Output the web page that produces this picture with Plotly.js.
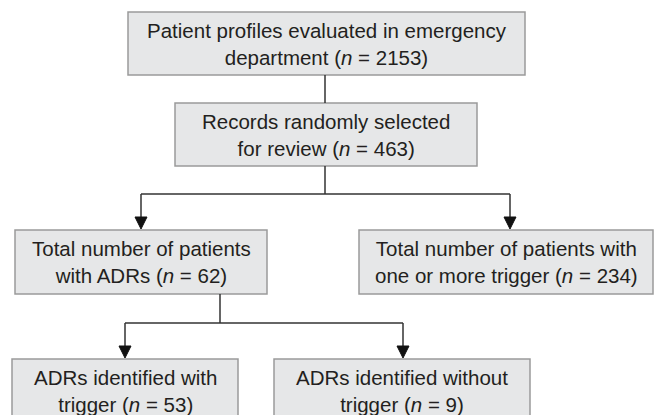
<!DOCTYPE html>
<html>
<head>
<meta charset="utf-8">
<script src="https://cdn.plot.ly/plotly-3.0.1.min.js"></script>
<style>html,body{margin:0;padding:0;background:#fff;}#chart{width:654px;height:415px;}</style>
</head>
<body>
<div id="chart"></div>
<script>
// ---- data ----
const nodeLabels = [
  "Patient profiles evaluated in emergency<br>department",
  "Records randomly selected<br>for review",
  "Total number of patients<br>with ADRs",
  "Total number of patients with<br>one or more trigger",
  "ADRs identified with<br>trigger",
  "ADRs identified without<br>trigger"
];
const nodeCounts = [2153, 463, 62, 234, 53, 9];
// parent index for each node (-1 = root)
const nodeParents = [-1, 0, 1, 1, 2, 2];

// ---- layout (pixel frame 654 x 415, y downward) ----
const boxes = [
  {x0: 128, x1: 525, y0: 12,  y1: 75},
  {x0: 175, x1: 477, y0: 103, y1: 166},
  {x0: 15,  x1: 267, y0: 230, y1: 294},
  {x0: 359, x1: 653, y0: 230, y1: 294},
  {x0: 12,  x1: 238, y0: 359, y1: 430},
  {x0: 274, x1: 530, y0: 359, y1: 430}
];
const stemX = [325, 325, 220]; // x where a parent's connector leaves
const arrowX = [null, 325, 141, 510, 125, 403];
const busY = {1: 194, 2: 323};

const lineColor = "#333333";
const shapes = [];
const annotations = [];

boxes.forEach((b, i) => {
  shapes.push({type: "rect", xref: "x", yref: "y", x0: b.x0, x1: b.x1, y0: b.y0, y1: b.y1,
    fillcolor: "#e6e7e8", line: {color: "#9a9a9a", width: 1.5}, layer: "below"});
  const cy = i >= 4 ? 391 : (b.y0 + b.y1) / 2;
  annotations.push({x: (b.x0 + b.x1) / 2, y: cy, xref: "x", yref: "y", showarrow: false,
    text: nodeLabels[i] + " (<i>n</i> = " + nodeCounts[i] + ")",
    font: {family: "Liberation Sans, Arial, sans-serif", size: 20.5, color: "#231f20"},
    align: "center", xanchor: "center", yanchor: "middle"});
});

function line(x0, y0, x1, y1) {
  shapes.push({type: "line", xref: "x", yref: "y", x0, y0, x1, y1, line: {color: lineColor, width: 1.5}});
}
function head(x, yTip) {
  shapes.push({type: "path", xref: "x", yref: "y",
    path: `M ${x - 6} ${yTip - 12} L ${x + 6} ${yTip - 12} L ${x} ${yTip} Z`,
    fillcolor: "#111111", line: {color: "#111111", width: 1}});
}

// root -> node 1 (straight)
line(stemX[0], boxes[0].y1, stemX[0], boxes[1].y0);
// node1 -> nodes 2,3 ; node2 -> nodes 4,5
[1, 2].forEach(p => {
  const kids = nodeParents.map((q, i) => q === p ? i : -1).filter(i => i >= 0);
  const yb = busY[p];
  line(stemX[p], boxes[p].y1, stemX[p], yb);
  const xs = kids.map(k => arrowX[k]);
  line(Math.min(...xs), yb, Math.max(...xs), yb);
  kids.forEach(k => {
    line(arrowX[k], yb, arrowX[k], boxes[k].y0 - 10);
    head(arrowX[k], boxes[k].y0 - 1);
  });
});

const layout = {
  width: 654, height: 415,
  margin: {l: 0, r: 0, t: 0, b: 0},
  paper_bgcolor: "#ffffff", plot_bgcolor: "#ffffff",
  xaxis: {range: [0, 654], visible: false, fixedrange: true},
  yaxis: {range: [415, 0], visible: false, fixedrange: true},
  shapes, annotations, showlegend: false
};
Plotly.newPlot("chart", [{x: [], y: [], type: "scatter", hoverinfo: "skip"}], layout,
  {displayModeBar: false, staticPlot: true});
</script>
</body>
</html>
